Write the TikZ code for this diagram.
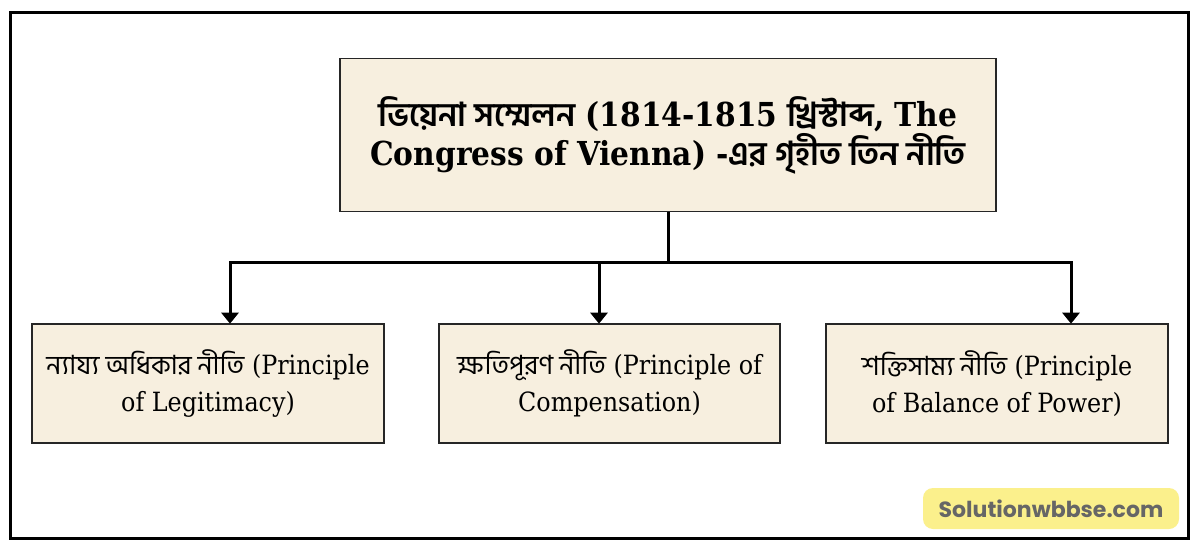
\documentclass[tikz,border=0pt]{standalone}
\usepackage{fontspec}
\setmainfont{DejaVu Serif Condensed}
\newfontfamily\bn[Script=Bengali]{Hind Siliguri}
\newfontfamily\wm{Poppins}
\usetikzlibrary{arrows.meta}
\definecolor{boxfill}{HTML}{F7EFDF}
\definecolor{wmfill}{HTML}{FBF08C}
\definecolor{wmtext}{HTML}{666666}
\tikzset{
  topbox/.style={draw=black!85, line width=1.6pt, fill=boxfill, minimum width=656pt, minimum height=153pt, align=center, inner sep=0pt, font=\fontsize{33}{39}\selectfont\bfseries},
  subbox/.style={draw=black!85, line width=1.6pt, fill=boxfill, minimum height=119pt, align=center, inner sep=0pt, font=\fontsize{26.5}{37}\selectfont},
  conn/.style={line width=3pt, black},
  arr/.style={conn, -{Triangle[length=11pt,width=17pt]}, shorten >=-0.5pt}
}
\begin{document}
\begin{tikzpicture}[x=1pt,y=-1pt]
\useasboundingbox (0,0) rectangle (1200,554);
\fill[white] (0,0) rectangle (1200,554);
\draw[line width=3pt] (10,12) rectangle (1188,538);

\node[topbox] (top) at (668,135) {{\bn ভিয়েনা সম্মেলন} (1814-1815 {\bn খ্রিস্টাব্দ}, The\\Congress of Vienna) -{\bn এর গৃহীত তিন নীতি}};

\node[subbox, minimum width=352pt] (left) at (208,383.5) {{\bn ন্যায্য অধিকার নীতি} (Principle\\of Legitimacy)};
\node[subbox, minimum width=341pt] (mid) at (609.5,383.5) {{\bn ক্ষতিপূরণ নীতি} (Principle of\\Compensation)};
\node[subbox, minimum width=342pt] (right) at (997,383.5) {{\bn শক্তিসাম্য নীতি} (Principle\\of Balance of Power)};

\coordinate (hl) at (230,262);
\coordinate (hm) at (599,262);
\coordinate (hr) at (1071,262);
\draw[conn] (top.south) -- (top.south |- hl);
\draw[conn, line cap=rect] (hl) -- (hr);
\draw[arr] (hl) -- (hl |- left.north);
\draw[arr] (hm) -- (hm |- mid.north);
\draw[arr] (hr) -- (hr |- right.north);

\node[fill=wmfill, rounded corners=10pt, minimum width=256pt, minimum height=41pt, inner sep=0pt, text=wmtext, font=\wm\fontsize{22}{26}\selectfont\bfseries] (wmark) at (1051,508.5) {Solutionwbbse.com};
\end{tikzpicture}
\end{document}
